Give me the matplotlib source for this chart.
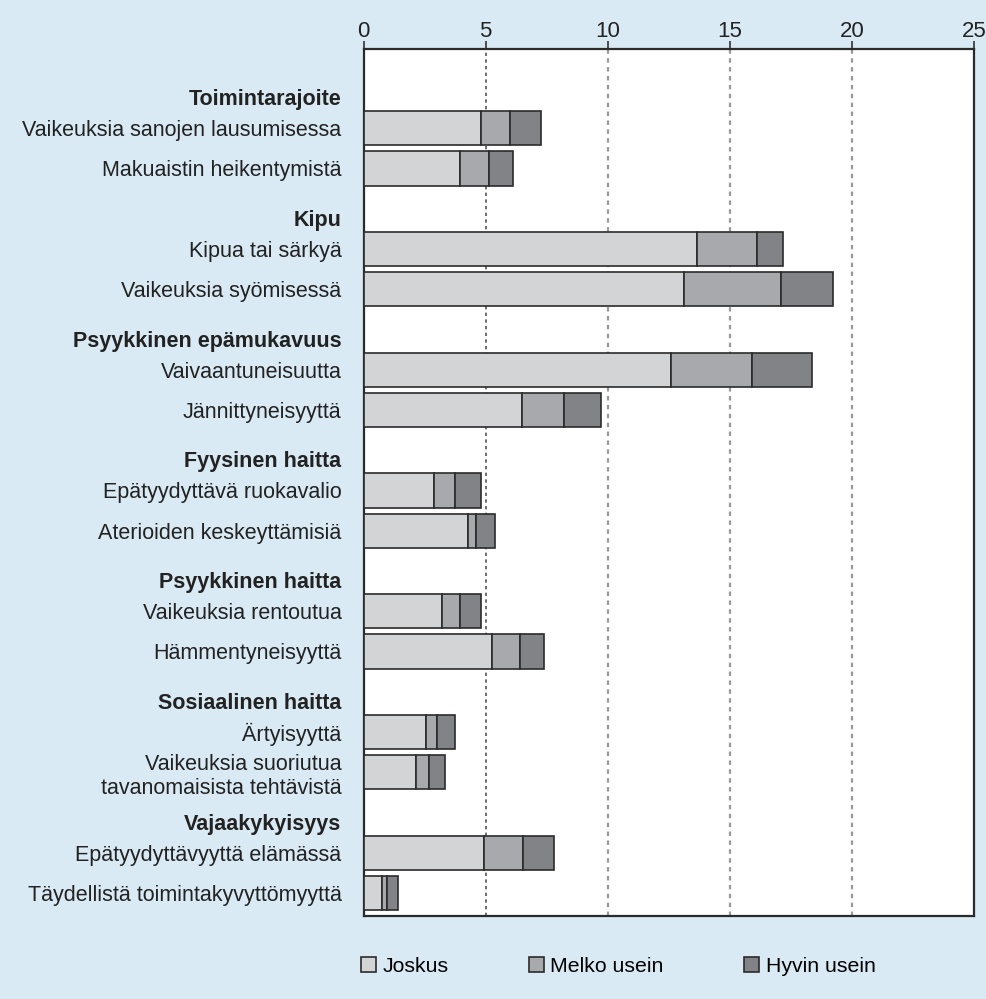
import matplotlib.pyplot as plt
from matplotlib.patches import Patch

plt.rcParams["font.family"] = ["Liberation Sans", "DejaVu Sans"]

# ryhmät ja niiden kysymykset
groups = [
    "Toimintarajoite",
    "Kipu",
    "Psyykkinen epämukavuus",
    "Fyysinen haitta",
    "Psyykkinen haitta",
    "Sosiaalinen haitta",
    "Vajaakykyisyys",
]
items = [
    ["Vaikeuksia sanojen lausumisessa", "Makuaistin heikentymistä"],
    ["Kipua tai särkyä", "Vaikeuksia syömisessä"],
    ["Vaivaantuneisuutta", "Jännittyneisyyttä"],
    ["Epätyydyttävä ruokavalio", "Aterioiden keskeyttämisiä"],
    ["Vaikeuksia rentoutua", "Hämmentyneisyyttä"],
    ["Ärtyisyyttä", "Vaikeuksia suoriutua\ntavanomaisista tehtävistä"],
    ["Epätyydyttävyyttä elämässä", "Täydellistä toimintakyvyttömyyttä"],
]

series = ["Joskus", "Melko usein", "Hyvin usein"]
joskus = [4.8, 3.95, 13.67, 13.13, 12.6, 6.5, 2.88, 4.28, 3.21, 5.25, 2.57, 2.13, 4.92, 0.74]
melko = [1.18, 1.17, 2.45, 3.96, 3.32, 1.72, 0.86, 0.31, 0.75, 1.17, 0.42, 0.55, 1.6, 0.22]
hyvin = [1.3, 0.99, 1.08, 2.13, 2.45, 1.51, 1.08, 0.77, 0.86, 0.97, 0.77, 0.65, 1.29, 0.45]

colors = ["#d3d4d6", "#a8a9ac", "#828387"]
bg = "#d9eaf4"

# rivien paikat: jokaisella ryhmällä otsikko + kaksi palkkia
ypos = []
labels = []
for g, pair in enumerate(items):
    for k, lab in enumerate(pair):
        ypos.append(g * 3 + 1 + k)
        labels.append(lab)
head_pos = [g * 3 + 0.23 for g in range(len(groups))]

fig = plt.figure(figsize=(9.86, 9.99), dpi=100, facecolor=bg)
ax = fig.add_axes([0.3689, 0.0831, 0.6187, 0.868])

left = [0] * len(ypos)
for vals, col in zip([joskus, melko, hyvin], colors):
    ax.barh(ypos, vals, left=left, height=0.85, color=col,
            edgecolor="#2b2b2b", linewidth=1.2, zorder=3)
    left = [a + b for a, b in zip(left, vals)]

ax.set_xlim(0, 25)
ax.set_ylim(20.57, -0.97)
ax.set_xticks([0, 5, 10, 15, 20, 25])
ax.xaxis.tick_top()
ax.tick_params(axis="x", length=6, width=1.2, color="#333", pad=-1,
               labelsize=16, labelcolor="#222")

ticks = ypos + head_pos
ticklabels = labels + groups
ax.set_yticks(ticks)
ax.set_yticklabels(ticklabels, fontsize=15.5, color="#222", ha="right")
ax.tick_params(axis="y", length=0, pad=16)
for t in ax.get_yticklabels()[len(labels):]:
    t.set_fontweight("bold")

for x in [5, 10, 15, 20]:
    ax.axvline(x, color="#555" if x == 5 else "#999",
               linestyle=(0, (2, 2)), linewidth=1.2 if x == 5 else 1.6, zorder=1)

for s in ax.spines.values():
    s.set_color("#2b2b2b")
    s.set_linewidth(1.6)
ax.set_facecolor("white")

handles = [Patch(facecolor=c, edgecolor="#2b2b2b", linewidth=1.2) for c in colors]
fig.legend(handles, series, loc="center", bbox_to_anchor=(0.627, 0.033), ncol=3,
           frameon=False, fontsize=15.3, handlelength=0.7, handleheight=0.7,
           handletextpad=0.3, columnspacing=3.8)

fig.savefig("out.png", dpi=100, facecolor=bg)
